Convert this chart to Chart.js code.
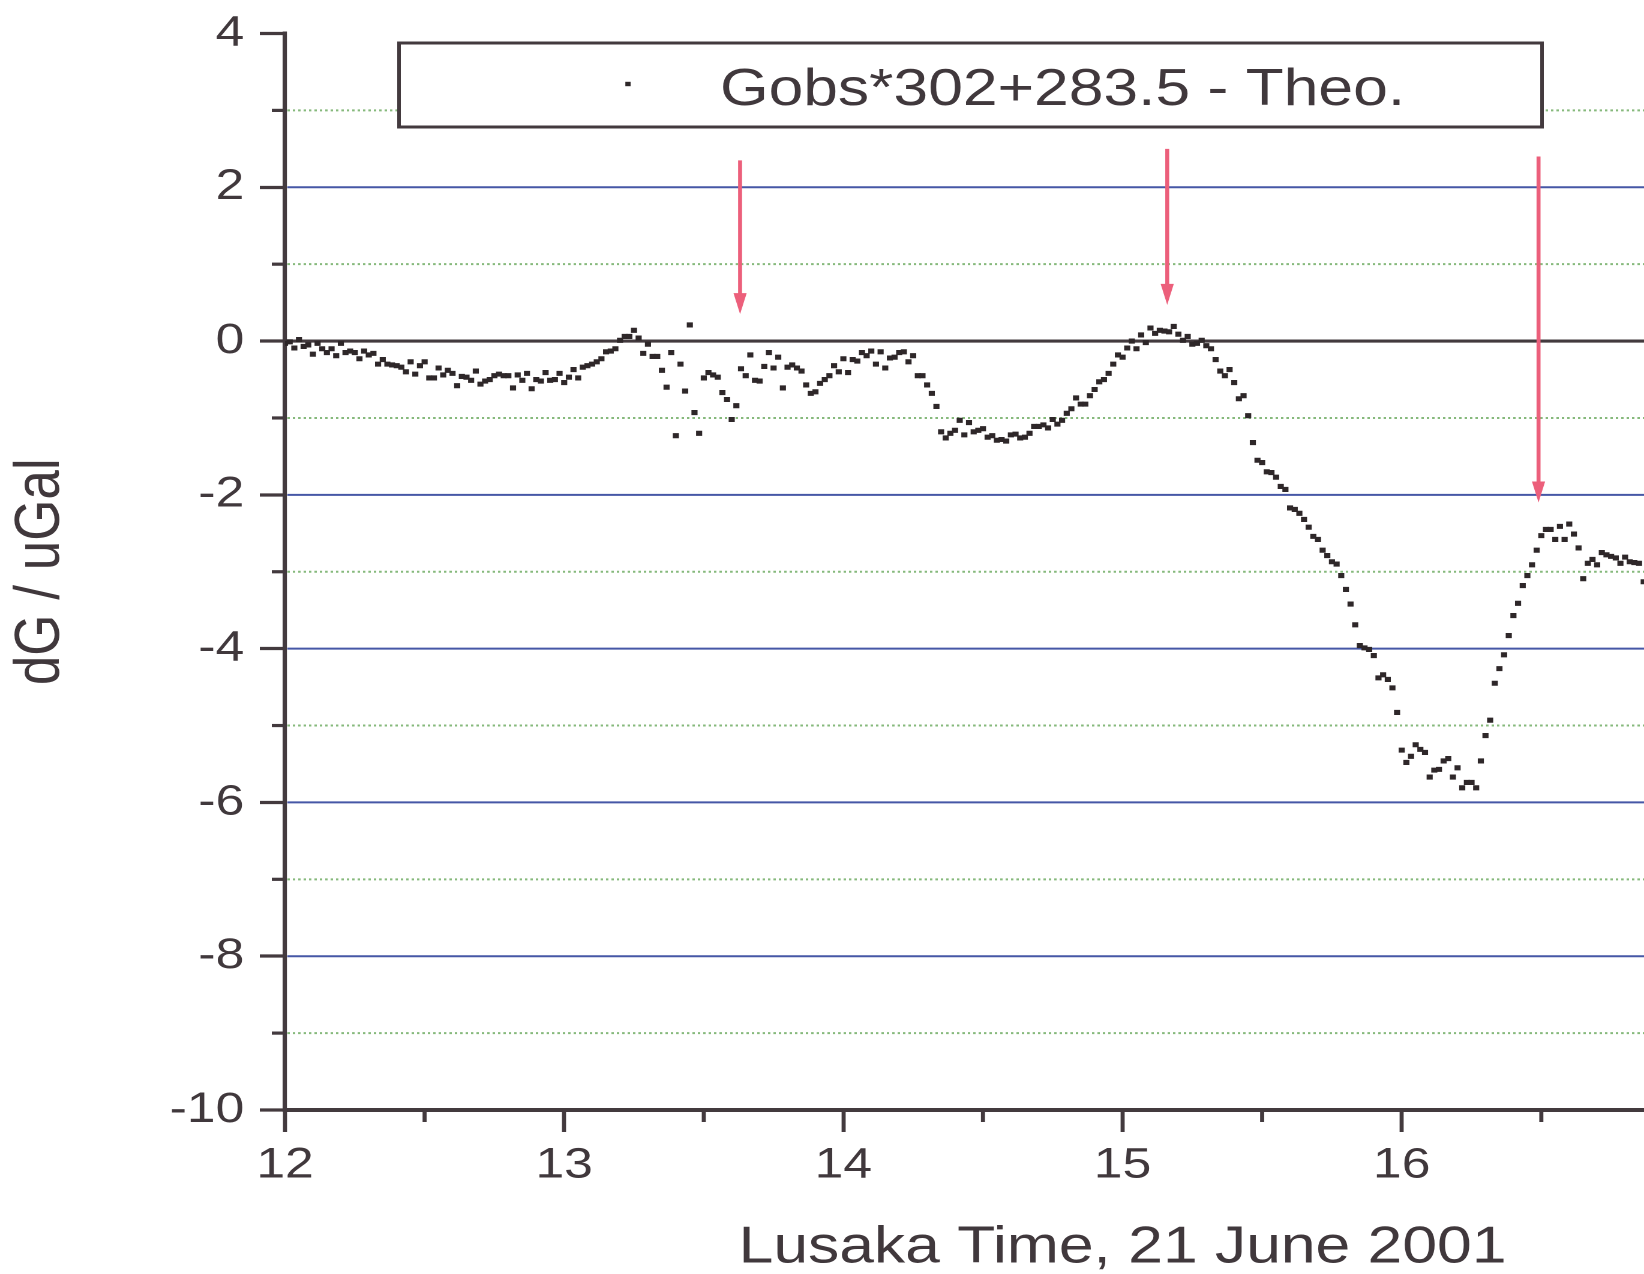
<!DOCTYPE html>
<html>
<head>
<meta charset="utf-8">
<title>Gobs*302+283.5 - Theo.</title>
<script src="https://cdn.jsdelivr.net/npm/chart.js@4.4.1/dist/chart.umd.min.js"></script>
<style>
  html, body { margin: 0; padding: 0; overflow: hidden; background: #fff; }
  /* the source scan is stretched sideways, so the whole chart is too */
  #wrap { position: relative; width: 1637px; height: 1274px; transform: scaleX(1.2); transform-origin: 0 0; }
</style>
</head>
<body>
<div id="wrap"><canvas id="gravChart"></canvas></div>
<script>
// one sample per minute from 12:00
const startHour = 12;
const minutesPerSample = 1;
const residuals = [
  -0.03, -0.01, -0.09, 0.02, -0.07, -0.05, -0.17, -0.03, -0.10, -0.15,
  -0.10, -0.19, -0.03, -0.15, -0.13, -0.15, -0.23, -0.13, -0.18, -0.16,
  -0.30, -0.24, -0.30, -0.31, -0.32, -0.34, -0.40, -0.27, -0.43, -0.32,
  -0.27, -0.48, -0.48, -0.35, -0.44, -0.38, -0.42, -0.58, -0.46, -0.47,
  -0.51, -0.39, -0.56, -0.52, -0.50, -0.45, -0.43, -0.45, -0.45, -0.61,
  -0.44, -0.51, -0.42, -0.62, -0.50, -0.52, -0.41, -0.51, -0.50, -0.42,
  -0.54, -0.47, -0.37, -0.48, -0.34, -0.32, -0.30, -0.27, -0.23, -0.14,
  -0.13, -0.10, 0.01, 0.06, 0.06, 0.14, 0.04, -0.16, -0.04, -0.20,
  -0.20, -0.38, -0.60, -0.15, -1.23, -0.30, -0.65,
  0.21, -0.93, -1.20, -0.48, -0.41, -0.44, -0.47, -0.67, -0.76, -1.02,
  -0.84, -0.36, -0.45, -0.18, -0.51, -0.52, -0.33, -0.15, -0.35, -0.21,
  -0.61, -0.34, -0.31, -0.35, -0.39, -0.57, -0.68, -0.66, -0.55, -0.50,
  -0.45, -0.32, -0.40, -0.23, -0.41, -0.24, -0.26, -0.15, -0.19, -0.13,
  -0.30, -0.14, -0.35, -0.22, -0.21, -0.15, -0.14, -0.27, -0.19, -0.45,
  -0.45, -0.57, -0.68, -0.85, -1.18, -1.26, -1.20, -1.16, -1.03, -1.22,
  -1.06, -1.18, -1.16, -1.14, -1.25, -1.23, -1.29, -1.28, -1.30, -1.22,
  -1.21, -1.26, -1.25, -1.20, -1.11, -1.11, -1.09, -1.13, -1.02, -1.08,
  -1.03, -0.94, -0.88, -0.74,
  -0.82, -0.82, -0.71, -0.63, -0.53, -0.50, -0.42, -0.30, -0.18, -0.21,
  -0.09, 0.00, -0.10, 0.08, -0.02, 0.17, 0.10, 0.14, 0.13, 0.12,
  0.19, 0.09, 0.01, 0.06, -0.04, -0.03, 0.01, -0.06, -0.10, -0.24,
  -0.39, -0.45, -0.37, -0.54, -0.75, -0.71, -0.97, -1.32, -1.55, -1.58,
  -1.70, -1.71, -1.77, -1.89, -1.93, -2.17, -2.19, -2.24, -2.32, -2.42,
  -2.54, -2.58, -2.72, -2.79, -2.87, -2.90, -3.05, -3.23, -3.42, -3.69,
  -3.96, -3.99, -4.01, -4.09, -4.38, -4.34, -4.40, -4.51, -4.83, -5.32,
  -5.48, -5.40, -5.25, -5.31, -5.35, -5.67, -5.58, -5.57, -5.46, -5.43,
  -5.67, -5.55, -5.81, -5.74, -5.74, -5.81, -5.46, -5.13, -4.93, -4.45,
  -4.26, -4.08, -3.83, -3.57, -3.41, -3.18, -3.05, -2.91, -2.72, -2.53,
  -2.45, -2.45, -2.58, -2.41, -2.58, -2.38, -2.51, -2.69, -3.09, -2.89,
  -2.84, -2.91, -2.75, -2.78, -2.80, -2.82, -2.89, -2.81, -2.87, -2.88,
  -2.89, -3.13
];

const xMin = 12, xMax = 18;
const yMin = -10, yMax = 4;
const majorGridY = [2, -2, -4, -6, -8];
const minorGridY = [3, 1, -1, -3, -5, -7, -9];
const minorTicksX = [12.5, 13.5, 14.5, 15.5, 16.5, 17.5];

// red marker arrows (hour, from dG, to dG)
const arrowX = [13.63, 15.16, 16.49];
const arrowTop = [2.35, 2.50, 2.40];
const arrowTip = [0.35, 0.47, -2.10];

const ink = '#433a3e';
const clear = 'rgba(0,0,0,0)';
const fontFamily = '"Liberation Sans", Arial, sans-serif';

Chart.defaults.font.family = fontFamily;
Chart.defaults.color = '#40383c';

function hline(ctx, x1, x2, y) {
  ctx.beginPath();
  ctx.moveTo(x1, y);
  ctx.lineTo(x2, y);
  ctx.stroke();
}

const guides = {
  id: 'guides',
  beforeDatasetsDraw(chart) {
    const {ctx, chartArea: a, scales: {y}} = chart;
    ctx.save();
    ctx.lineWidth = 2;
    ctx.strokeStyle = '#86b97c';
    ctx.setLineDash([2, 2.5]);
    minorGridY.forEach(v => hline(ctx, a.left + 2, a.right, y.getPixelForValue(v)));
    ctx.setLineDash([]);
    ctx.strokeStyle = '#4657a6';
    majorGridY.forEach(v => hline(ctx, a.left + 2, a.right, y.getPixelForValue(v)));
    ctx.strokeStyle = ink;
    ctx.lineWidth = 3.2;
    hline(ctx, a.left, a.right, y.getPixelForValue(0));
    ctx.restore();
  },
  afterDatasetsDraw(chart) {
    const {ctx, chartArea: a, scales: {x, y}} = chart;
    ctx.save();

    // short minor ticks
    ctx.strokeStyle = ink;
    ctx.lineWidth = 3.2;
    minorGridY.forEach(v => hline(ctx, a.left - 11, a.left, y.getPixelForValue(v)));
    ctx.lineWidth = 3.4;
    minorTicksX.forEach(v => {
      const px = x.getPixelForValue(v);
      ctx.beginPath();
      ctx.moveTo(px, a.bottom);
      ctx.lineTo(px, a.bottom + 12);
      ctx.stroke();
    });

    // arrows
    ctx.strokeStyle = '#ec5f7b';
    ctx.fillStyle = '#ec5f7b';
    arrowX.forEach((v, i) => {
      const px = x.getPixelForValue(v);
      const top = y.getPixelForValue(arrowTop[i]);
      const tip = y.getPixelForValue(arrowTip[i]);
      ctx.lineWidth = 3.3;
      ctx.beginPath();
      ctx.moveTo(px, top);
      ctx.lineTo(px, tip - 16);
      ctx.stroke();
      ctx.beginPath();
      ctx.moveTo(px - 5.5, tip - 21);
      ctx.lineTo(px + 5.5, tip - 21);
      ctx.lineTo(px, tip);
      ctx.closePath();
      ctx.fill();
    });

    // legend box
    const ds = chart.data.datasets[0];
    ctx.fillStyle = '#fff';
    ctx.fillRect(332.5, 43, 952.5, 84);
    ctx.strokeStyle = ink;
    ctx.lineWidth = 3;
    ctx.strokeRect(332.5, 43, 952.5, 84);
    ctx.fillStyle = ds.backgroundColor;
    ctx.fillRect(523.3 - 2.2, 84 - 2.2, 4.4, 4.4);
    ctx.fillStyle = '#40383c';
    ctx.font = '52px ' + fontFamily;
    ctx.textBaseline = 'alphabetic';
    ctx.fillText(ds.label, 600, 105);

    ctx.restore();
  }
};

new Chart(document.getElementById('gravChart'), {
  type: 'scatter',
  data: {
    datasets: [{
      label: 'Gobs*302+283.5 - Theo.',
      data: residuals.map((v, i) => ({x: startHour + i * minutesPerSample / 60, y: v})),
      pointStyle: 'rect',
      pointRadius: 3.6,
      pointHoverRadius: 3.6,
      borderWidth: 0,
      backgroundColor: '#2e2729'
    }]
  },
  options: {
    responsive: true,
    maintainAspectRatio: false,
    devicePixelRatio: 2,
    animation: false,
    layout: {padding: {left: 0, right: 0, top: 33.5, bottom: 0}},
    plugins: {legend: {display: false}, tooltip: {enabled: false}},
    scales: {
      x: {
        type: 'linear',
        min: xMin,
        max: xMax,
        afterFit: s => { s.height = 164; s.paddingLeft = 0; s.paddingRight = 0; },
        border: {color: ink, width: 4},
        grid: {
          drawOnChartArea: false,
          tickLength: 22,
          tickWidth: 3.4,
          tickColor: c => (c.tick && Number.isInteger(c.tick.value)) ? ink : clear
        },
        ticks: {
          stepSize: 0.5,
          autoSkip: false,
          maxRotation: 0,
          padding: 8,
          font: {size: 43},
          callback: v => (Number.isInteger(v) && v < xMax) ? String(v) : ''
        },
        title: {
          display: true,
          text: 'Lusaka Time, 21 June 2001',
          font: {size: 52, lineHeight: 1},
          padding: 0
        }
      },
      y: {
        type: 'linear',
        min: yMin,
        max: yMax,
        afterFit: s => { s.width = 237.5; s.paddingTop = 0; s.paddingBottom = 0; },
        border: {color: ink, width: 3.6},
        grid: {
          drawOnChartArea: false,
          tickLength: 21,
          tickWidth: 3.2,
          tickColor: c => (c.tick && c.tick.value % 2 === 0) ? ink : clear
        },
        ticks: {
          stepSize: 1,
          padding: 13,
          font: {size: 43},
          callback: v => v % 2 === 0 ? String(v) : ''
        },
        title: {
          display: true,
          text: 'dG / uGal',
          font: {size: 53, lineHeight: 1},
          padding: {top: 8, bottom: 0}
        }
      }
    }
  },
  plugins: [guides]
});
</script>
</body>
</html>
